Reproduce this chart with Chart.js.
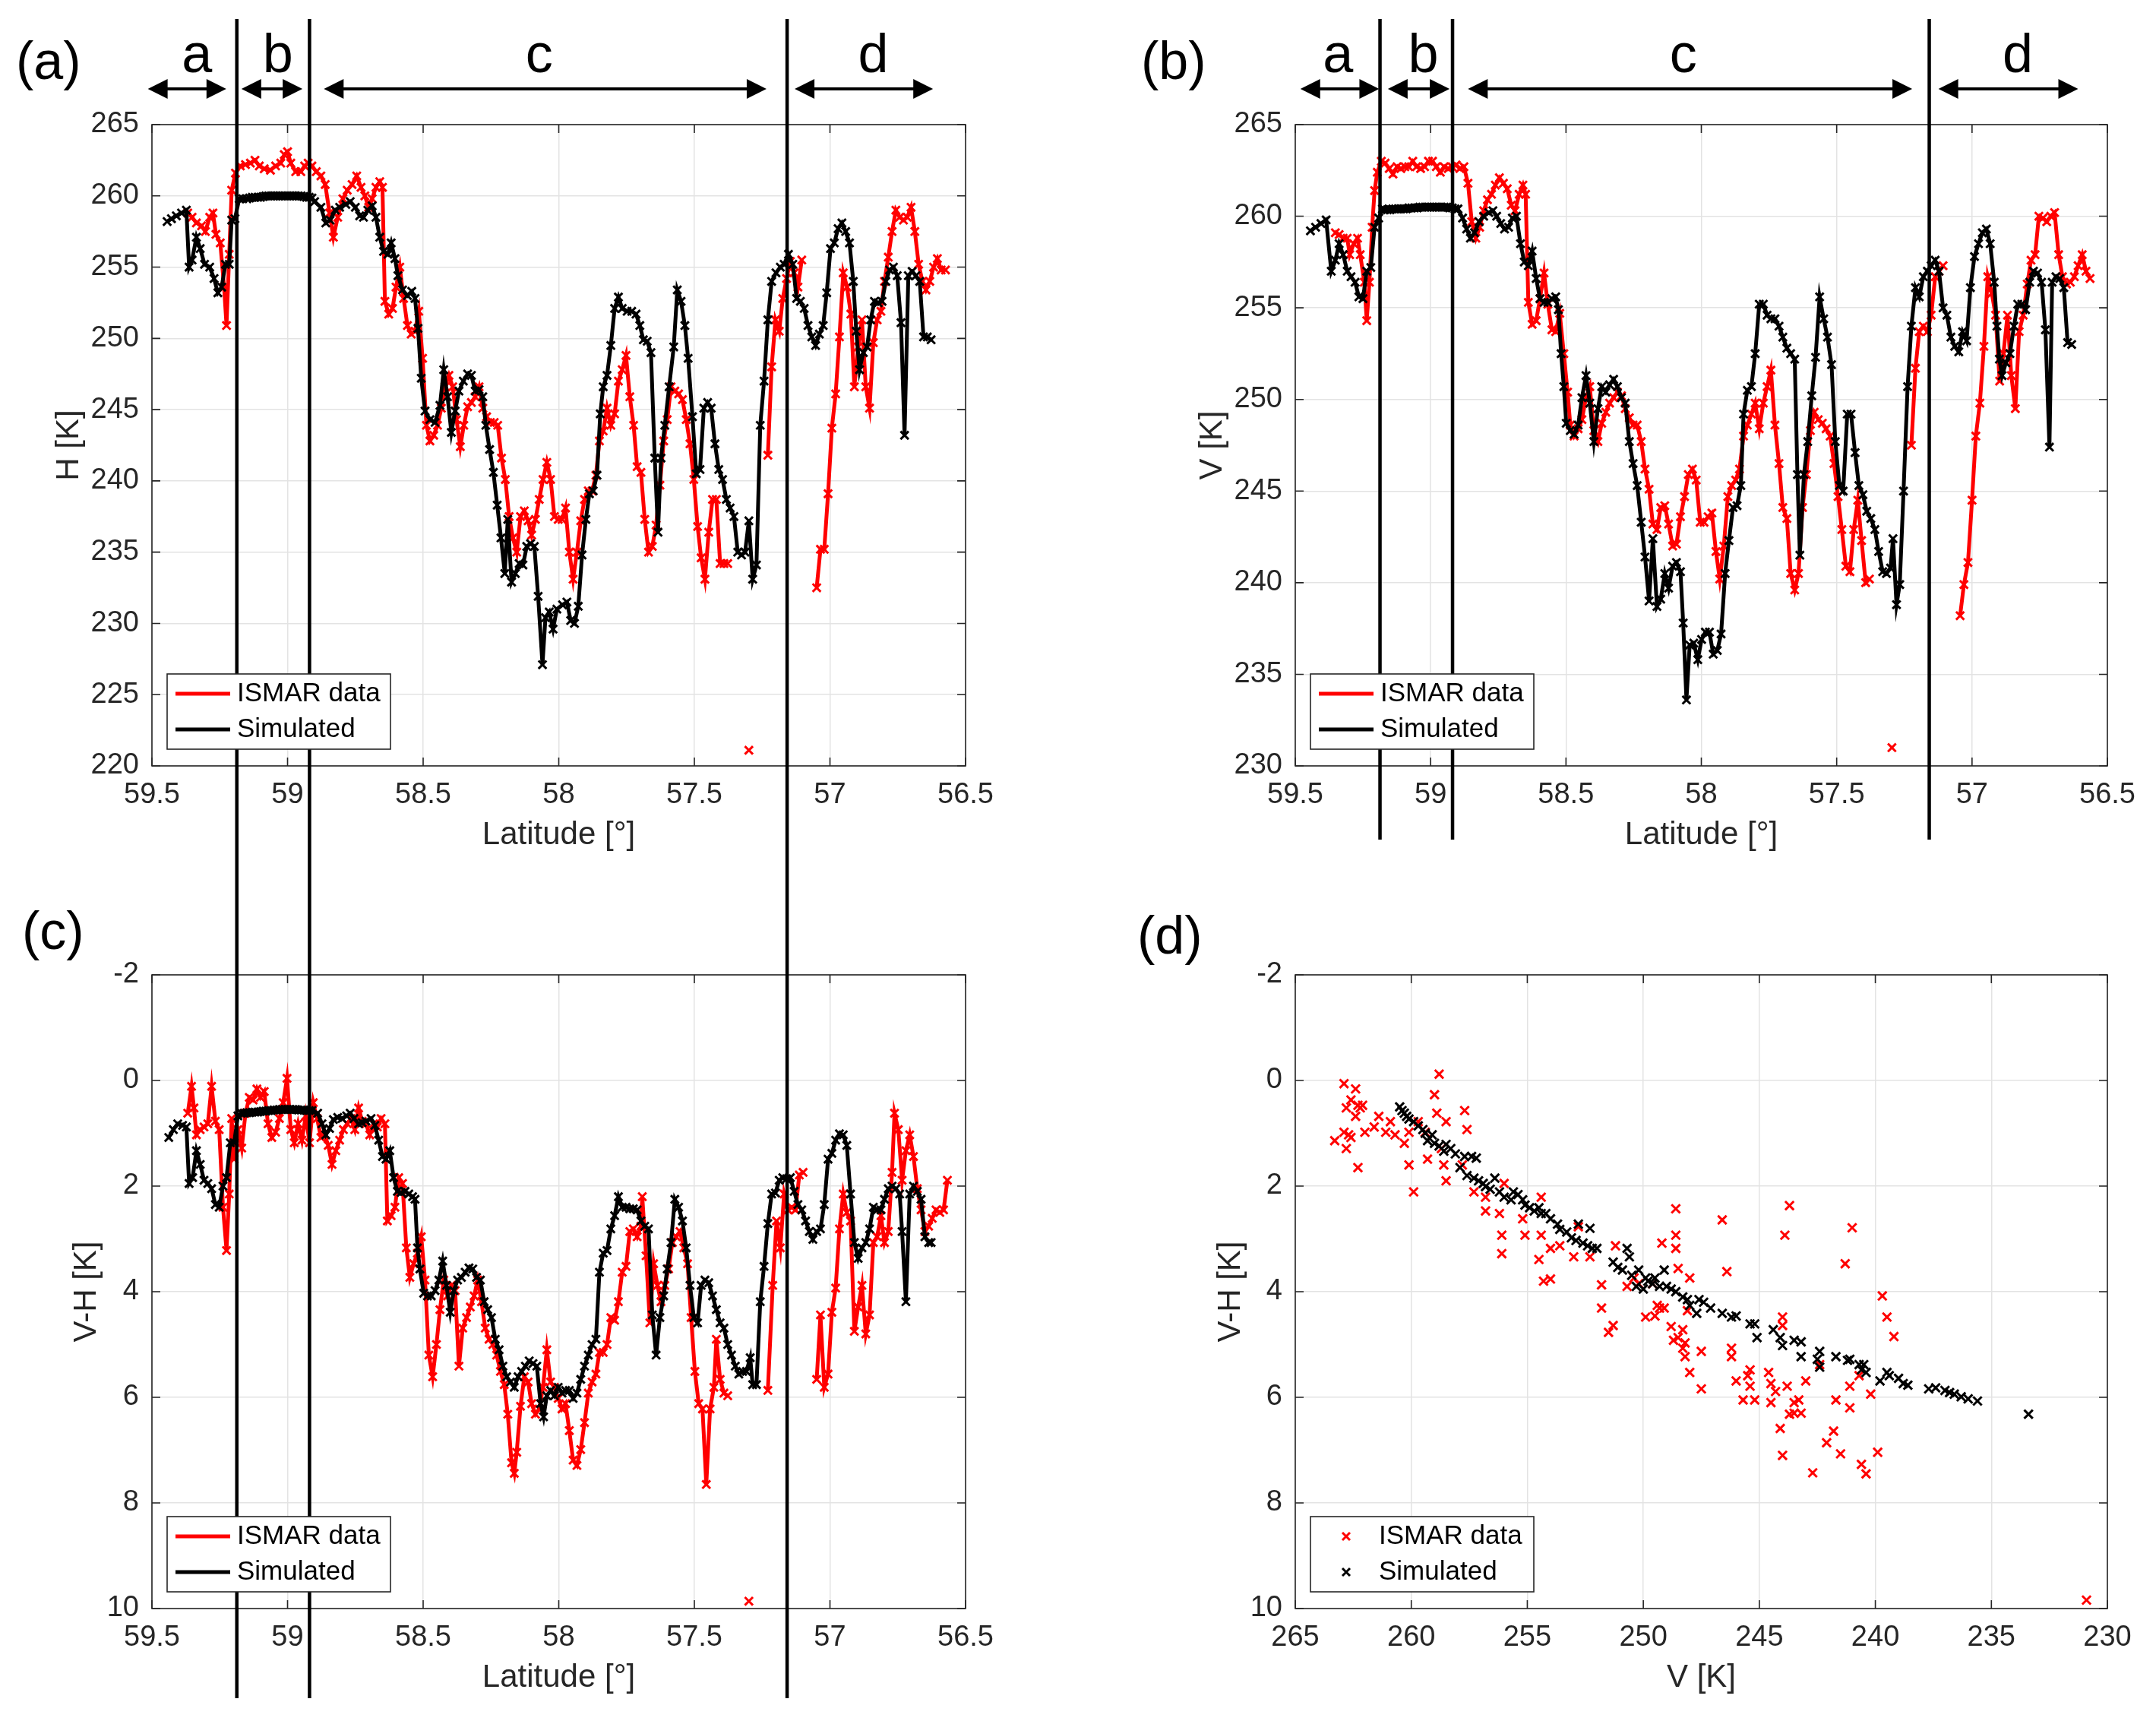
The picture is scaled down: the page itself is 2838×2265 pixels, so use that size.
<!DOCTYPE html>
<html>
<head>
<meta charset="utf-8">
<script src="https://cdn.jsdelivr.net/npm/chart.js@4.4.1/dist/chart.umd.min.js"></script>
<style>
  html, body { margin: 0; padding: 0; background: #fff; }
  #page { position: relative; width: 2838px; height: 2265px; background: #fff; overflow: hidden; }
  canvas { position: absolute; }
</style>
</head>
<body>
<div id="page">
  <canvas id="cA" width="1470" height="1160" style="left:0;top:0;width:1470px;height:1160px"></canvas>
  <canvas id="cB" width="1368" height="1160" style="left:1470px;top:0;width:1368px;height:1160px"></canvas>
  <canvas id="cC" width="1470" height="1105" style="left:0;top:1160px;width:1470px;height:1105px"></canvas>
  <canvas id="cD" width="1368" height="1105" style="left:1470px;top:1160px;width:1368px;height:1105px"></canvas>
</div>
<script>
// ---- panel (a): H vs latitude ----
const simLatA = [59.444,59.428,59.410,59.391,59.373,59.363,59.352,59.336,59.322,59.306,59.287,59.271,59.257,59.243,59.229,59.215,59.206,59.194,59.178,
  59.165,59.15,59.14,59.13,59.12,59.11,59.10,59.09,59.08,59.07,59.06,59.05,59.04,59.03,59.02,59.01,59.00,58.99,58.98,58.97,58.96,58.95,58.94,58.93,58.92,58.91,
  58.900,58.877,58.859,58.843,58.824,58.808,58.785,58.769,58.750,58.734,
  58.720,58.704,58.688,58.674,58.660,58.646,58.630,58.618,58.604,58.593,
  58.576,58.558,58.542,58.530,58.519,58.507,58.493,58.475,58.456,58.438,
  58.424,58.410,58.396,58.382,58.368,58.352,58.336,58.322,58.308,58.294,
  58.280,58.269,58.255,58.241,58.227,58.213,58.199,58.188,58.174,58.160,
  58.146,58.132,58.118,58.104,58.090,58.076,58.060,58.049,58.035,58.021,
  58.007,57.986,57.970,57.956,57.942,57.928,57.914,57.900,57.887,57.873,
  57.859,57.847,57.836,57.822,57.808,57.794,57.780,57.766,57.748,57.731,
  57.715,57.701,57.688,57.674,57.660,57.646,57.634,57.623,57.609,57.593,
  57.576,57.563,57.549,57.535,57.523,57.507,57.493,57.479,57.465,57.451,
  57.438,57.424,57.410,57.396,57.382,57.368,57.354,57.340,57.326,57.313,
  57.299,57.285,57.271,57.257,57.243,57.229,57.215,57.199,57.183,57.169,
  57.153,57.137,57.123,57.109,57.095,57.081,57.067,57.053,57.039,57.025,
  57.012,56.998,56.984,56.970,56.956,56.942,56.928,56.914,56.903,56.891,
  56.877,56.863,56.850,56.836,56.822,56.808,56.794,56.780,56.766,56.752,
  56.738,56.725,56.711,56.697,56.683,56.669,56.655,56.641,56.627];
const simHA = [258.2,258.4,258.6,258.8,259.0,255.0,255.5,257.1,256.3,255.2,255.0,254.2,253.2,253.6,255.2,255.2,258.3,258.4,259.8,
  259.8,259.8,259.85,259.9,259.9,259.9,259.9,259.95,260,260,260,260,260,260,260,260,260,260,260,260,260,260,259.95,259.9,259.9,259.85,
  259.6,259.2,258.1,258.3,259.0,259.2,259.4,259.6,259.2,258.6,
  258.5,259.0,259.3,258.5,257.1,256.1,255.9,256.7,255.6,254.4,
  253.4,253.0,253.3,252.8,250.7,247.2,244.9,244.3,244.1,245.3,
  247.8,245.9,243.4,244.9,246.3,247.0,247.5,247.4,246.3,246.4,
  245.9,243.9,242.2,240.6,238.3,236.0,233.5,237.3,232.9,233.5,
  234.2,234.1,235.4,235.6,235.4,231.9,227.1,230.4,230.8,229.6,
  231.0,231.3,231.5,230.2,230.0,231.2,234.8,237.3,239.1,239.3,
  240.4,244.7,246.6,247.4,249.5,252.1,252.9,252.1,251.9,251.9,
  251.7,250.9,249.9,249.8,249.0,241.6,236.4,241.6,243.9,246.6,
  249.4,253.4,252.6,250.9,248.6,244.5,240.5,240.8,245.1,245.5,
  245.1,242.6,240.8,240.1,238.7,238.1,237.5,235.0,234.8,235.0,
  237.2,233.1,234.1,243.9,247.0,251.3,254.0,254.6,255.0,255.2,
  255.9,255.2,252.8,252.6,252.1,250.9,250.1,249.5,250.3,250.9,
  253.2,256.3,256.7,257.7,258.1,257.5,256.7,254.0,250.5,247.8,
  249.0,249.4,251.3,252.6,252.5,252.6,254.0,254.8,255.0,254.4,
  251.1,243.2,254.4,254.7,254.4,254.0,250.1,250.1,249.9];
const ismarLatA = [59.368,59.352,59.336,59.317,59.303,59.287,59.275,59.264,59.248,59.234,
  59.225,59.215,59.206,59.192,59.174,59.155,59.137,59.120,59.104,59.086,
  59.063,59.044,59.025,59.012,59.000,58.988,58.970,58.951,58.937,58.924,
  58.910,58.894,58.877,58.861,58.845,58.831,58.815,58.796,58.780,58.762,
  58.745,58.729,58.715,58.701,58.688,58.674,58.660,58.650,58.641,58.627,
  58.613,58.600,58.586,58.572,58.558,58.544,58.530,58.516,58.502,58.488,
  58.475,58.461,58.447,58.433,58.419,58.405,58.391,58.377,58.363,58.350,
  58.336,58.322,58.308,58.294,58.280,58.266,58.252,58.238,58.225,58.211,
  58.197,58.183,58.169,58.155,58.141,58.127,58.113,58.100,58.086,58.072,
  58.058,58.044,58.030,58.016,58.002,57.988,57.975,57.961,57.947,57.933,
  57.919,57.905,57.891,57.877,57.863,57.850,57.836,57.822,57.808,57.794,
  57.780,57.766,57.752,57.738,57.724,57.711,57.697,57.683,57.669,57.655,
  57.641,57.627,57.613,57.600,57.586,57.572,57.558,57.544,57.530,57.516,
  57.502,57.488,57.475,57.461,57.447,57.433,57.419,57.405,57.391,57.377,
  null,57.299,null,57.229,57.215,57.201,57.187,57.174,57.160,57.146,
  57.132,57.118,57.104,null,57.049,57.035,57.021,57.007,56.993,56.979,
  56.965,56.951,56.937,56.923,56.910,56.896,56.882,56.868,56.854,56.840,
  56.826,56.812,56.799,56.785,56.771,56.757,56.743,56.729,56.715,56.701,
  56.687,56.673,56.659,56.646,56.632,56.618,56.604,56.590,56.574];
const ismarHA = [258.8,258.5,258.1,257.9,257.5,258.5,258.8,257.3,256.7,253.6,
  250.9,255.9,260.4,261.6,262.1,262.2,262.3,262.5,262.1,261.9,
  261.8,262.1,262.3,262.9,263.1,262.3,261.7,261.7,262.1,262.3,
  262.1,261.7,261.4,260.8,258.8,257.1,258.5,259.8,260.4,260.8,
  261.4,260.6,260.0,259.2,259.8,260.6,261.0,260.6,252.6,251.7,
  252.1,253.6,255.0,252.8,250.9,250.3,250.5,251.9,248.6,243.9,
  242.8,243.2,243.9,245.1,246.6,247.4,246.6,244.3,242.4,243.9,
  245.2,245.5,245.9,246.6,245.1,244.5,244.1,244.1,243.9,241.6,
  240.1,237.5,236.0,235.0,237.5,237.9,237.2,236.2,237.3,238.7,
  240.1,241.3,240.1,237.5,237.3,237.3,238.1,235.0,233.1,235.0,
  237.2,238.7,239.3,239.3,240.4,242.8,243.5,245.1,243.9,244.7,
  247.0,247.8,248.8,245.9,243.9,241.0,240.6,237.3,235.0,235.4,
  236.9,239.7,242.8,244.3,246.6,246.3,246.1,245.7,244.3,242.6,
  240.1,236.8,234.6,233.1,236.4,238.7,238.7,234.2,234.2,234.2,
  null,221.1,null,241.8,248.0,251.3,250.5,252.8,254.2,255.4,
  254.6,253.6,255.5,null,232.5,235.2,235.2,239.1,243.7,246.1,
  250.1,254.6,253.6,251.7,246.6,249.4,251.3,246.6,245.1,249.7,
  251.3,251.9,254.0,255.7,257.5,259.0,258.5,258.3,258.5,259.2,
  257.5,255.2,254.0,253.4,254.0,255.0,255.6,254.8,254.8];

// ---- panel (b): V vs latitude ----
const simLatB = [59.444,59.425,59.405,59.386,59.367,59.352,59.338,59.323,59.308,59.294,59.279,59.265,59.250,59.236,59.221,59.207,59.192,59.178,
  59.17,59.16,59.15,59.14,59.13,59.12,59.11,59.10,59.09,59.08,59.07,59.06,59.05,59.04,59.03,59.02,59.01,59.00,58.99,58.98,58.97,58.96,58.95,58.94,58.93,58.92,58.91,
  58.899,58.882,58.867,58.853,58.838,58.821,58.804,58.785,58.770,58.756,
  58.741,58.727,58.712,58.698,58.683,58.668,58.654,58.639,58.625,58.610,
  58.596,58.581,58.567,58.552,58.538,58.528,58.518,58.508,58.499,58.484,
  58.470,58.455,58.441,58.426,58.412,58.397,58.382,58.368,58.353,58.339,
  58.324,58.310,58.295,58.281,58.266,58.252,58.237,58.222,58.208,58.193,
  58.179,58.164,58.150,58.135,58.121,58.106,58.092,58.077,58.067,58.055,
  58.043,58.028,58.013,57.999,57.985,57.970,57.956,57.941,57.927,57.912,
  57.898,57.883,57.868,57.854,57.844,57.830,57.815,57.801,57.786,57.771,
  57.757,57.743,57.728,57.713,57.699,57.684,57.670,57.655,57.645,57.636,
  57.621,57.607,57.592,57.578,57.563,57.548,57.534,57.519,57.505,57.490,
  57.476,57.461,57.447,57.432,57.418,57.403,57.389,57.374,57.359,57.345,
  57.330,57.316,57.301,57.292,57.279,57.267,57.253,57.238,57.224,57.209,
  57.195,57.180,57.165,57.151,57.136,57.122,57.107,57.093,57.078,57.064,
  57.049,57.035,57.020,57.006,56.991,56.976,56.962,56.947,56.933,56.918,
  56.908,56.899,56.889,56.875,56.860,56.845,56.831,56.816,56.802,56.787,
  56.773,56.758,56.743,56.729,56.714,56.704,56.690,56.676,56.661,56.647,
  56.632];
const simVB = [259.2,259.4,259.6,259.8,257.0,257.6,258.5,257.9,257.0,256.7,256.4,255.6,255.5,257.0,257.2,259.4,259.9,260.4,
  260.35,260.35,260.35,260.4,260.4,260.4,260.4,260.4,260.4,260.45,260.45,260.45,260.45,260.5,260.5,260.5,260.5,260.5,260.5,260.5,260.5,260.5,260.5,260.5,260.45,260.45,260.4,
  260.4,259.9,259.3,258.8,259.1,259.7,260.0,260.2,260.3,260.0,
  259.6,259.3,259.4,259.9,260.0,258.5,257.5,257.3,258.1,256.6,
  255.5,255.3,255.3,255.5,255.6,254.9,252.5,250.7,248.7,248.3,
  248.1,248.6,250.1,251.3,249.8,247.7,249.5,250.7,250.4,250.8,
  251.1,250.7,250.1,249.8,247.7,246.5,245.3,243.3,241.4,239.0,
  242.4,238.7,239.1,240.5,239.7,240.9,241.1,240.6,237.8,233.6,
  236.6,236.7,235.8,236.9,237.3,237.3,236.1,236.3,237.2,240.5,
  242.3,244.1,244.2,245.3,249.2,250.5,250.7,252.5,255.2,255.2,
  254.6,254.4,254.4,254.0,253.4,252.8,252.5,252.2,245.9,241.5,
  245.9,247.7,250.2,252.3,255.6,254.4,253.4,251.9,247.7,245.3,
  245.0,249.2,249.2,247.1,245.3,244.8,243.9,243.5,242.9,241.7,
  240.6,240.5,240.8,242.4,238.8,239.9,245.0,250.7,254.0,256.1,
  255.6,256.7,257.0,257.3,257.6,257.0,255.0,254.6,253.4,252.9,
  252.6,253.7,253.2,256.1,257.8,258.5,259.1,259.3,258.5,256.4,
  254.0,252.2,251.3,252.0,252.5,254.0,255.2,255.2,254.9,256.4,
  257.0,256.9,256.4,253.8,247.4,256.4,256.7,256.6,256.1,253.1,
  253.0];
const ismarLatB = [59.352,59.338,59.323,59.308,59.299,59.284,59.270,59.260,59.245,59.236,
  59.226,59.216,59.207,59.197,59.182,59.168,59.153,59.139,59.124,59.110,
  59.095,59.081,59.066,59.052,59.037,59.022,59.008,58.993,58.979,58.964,
  58.950,58.935,58.921,58.906,58.892,58.877,58.862,58.848,58.833,58.819,
  58.804,58.790,58.775,58.761,58.746,58.731,58.717,58.702,58.688,58.673,
  58.659,58.649,58.639,58.625,58.610,58.596,58.581,58.567,58.552,58.538,
  58.523,58.508,58.494,58.484,58.470,58.455,58.441,58.426,58.412,58.397,
  58.382,58.368,58.353,58.339,58.324,58.310,58.295,58.281,58.266,58.252,
  58.237,58.222,58.208,58.193,58.179,58.164,58.150,58.135,58.121,58.106,
  58.092,58.077,58.062,58.048,58.033,58.019,58.004,57.990,57.975,57.961,
  57.946,57.932,57.917,57.902,57.888,57.873,57.859,57.844,57.830,57.815,
  57.801,57.786,57.771,57.757,57.743,57.728,57.713,57.699,57.684,57.670,
  57.655,57.641,57.626,57.612,57.597,57.583,57.568,57.553,57.539,57.524,
  57.510,57.495,57.481,57.466,57.451,57.437,57.422,57.408,57.393,57.379,
  null,57.296,null,57.224,57.209,57.195,57.180,57.165,57.151,57.136,
  57.122,57.107,null,57.044,57.030,57.015,57.000,56.986,56.971,56.956,
  56.942,56.927,56.913,56.898,56.884,56.869,56.855,56.840,56.826,56.811,
  56.796,56.782,56.767,56.753,56.738,56.724,56.709,56.695,56.680,56.666,
  56.651,56.637,56.622,56.608,56.593,56.579,56.564];
const ismarVB = [259.1,259.0,258.8,258.8,257.9,258.5,258.8,257.9,256.4,254.3,
  256.4,259.4,261.4,262.4,263.0,262.9,262.6,262.3,262.7,262.6,
  262.7,262.7,263.0,262.7,262.6,262.7,263.0,263.0,262.7,262.4,
  262.7,262.6,262.7,262.8,262.6,262.7,261.8,259.7,258.8,259.4,
  260.3,260.9,261.2,261.7,262.1,261.8,261.5,260.6,260.3,261.2,
  261.7,261.2,255.3,254.1,254.3,255.5,256.9,255.2,253.8,253.7,
  254.7,252.5,250.4,248.6,248.0,248.4,248.9,250.1,250.7,248.3,
  247.7,248.7,249.3,249.8,250.1,250.4,250.2,249.5,249.0,248.6,
  248.6,247.7,246.2,245.1,243.2,242.9,244.1,244.2,243.2,242.0,
  242.1,243.6,244.7,245.9,246.2,245.6,243.3,243.3,243.6,243.8,
  241.7,240.2,242.0,244.7,245.3,245.6,246.2,248.0,248.6,249.2,
  249.8,248.4,249.8,250.7,251.6,248.6,246.5,244.1,243.5,240.5,
  239.6,240.5,244.1,245.9,248.3,249.3,248.9,248.7,248.4,248.0,
  246.5,244.7,242.9,240.9,240.6,242.9,244.5,242.3,240.0,240.2,
  null,231.0,null,247.5,251.7,253.7,254.0,253.7,254.6,256.7,
  257.0,257.3,null,238.2,239.9,241.1,244.5,248.0,249.8,252.9,
  256.7,255.8,254.6,251.0,252.5,254.6,251.3,249.5,253.7,254.6,
  256.3,257.6,257.9,260.0,259.9,259.7,260.0,260.2,257.9,256.7,
  256.3,256.4,256.7,257.3,257.9,257.0,256.6];

// ---- panel (c): V-H vs latitude ----
const simLatC = [59.438,59.421,59.405,59.387,59.373,59.363,59.350,59.336,59.322,59.308,59.294,59.280,59.266,59.252,59.238,59.225,59.211,59.197,59.183,
  59.17,59.16,59.15,59.14,59.13,59.12,59.11,59.10,59.09,59.08,59.07,59.06,59.05,59.04,59.03,59.02,59.01,59.00,58.99,58.98,58.97,58.96,58.95,58.94,58.93,58.92,58.91,
  58.889,58.873,58.859,58.845,58.831,58.815,58.799,58.782,58.769,58.755,
  58.738,58.725,58.711,58.692,58.678,58.664,58.650,58.637,58.623,58.609,
  58.595,58.581,58.567,58.553,58.539,58.530,58.521,58.512,58.498,58.484,
  58.470,58.456,58.442,58.428,58.414,58.400,58.387,58.373,58.359,58.345,
  58.331,58.317,58.303,58.289,58.275,58.262,58.248,58.234,58.220,58.206,
  58.192,58.178,58.164,58.150,58.137,58.123,58.109,58.095,58.081,58.067,
  58.056,58.044,58.030,58.016,58.002,57.988,57.975,57.961,57.947,57.933,
  57.919,57.905,57.891,57.877,57.863,57.850,57.836,57.822,57.808,57.794,
  57.780,57.766,57.752,57.738,57.725,57.711,57.697,57.683,57.669,57.655,
  57.641,57.627,57.613,57.600,57.586,57.572,57.558,57.544,57.530,57.516,
  57.502,57.488,57.475,57.461,57.447,57.433,57.419,57.405,57.391,57.377,
  57.363,57.349,57.336,57.322,57.308,57.294,57.285,57.271,57.257,57.243,
  57.229,57.215,57.201,57.187,57.174,57.160,57.146,57.132,57.118,57.104,
  57.090,57.076,57.063,57.049,57.035,57.021,57.007,56.993,56.979,56.965,
  56.951,56.938,56.924,56.910,56.896,56.882,56.868,56.854,56.840,56.826,
  56.812,56.799,56.785,56.771,56.757,56.743,56.734,56.720,56.706,56.692,
  56.678,56.664,56.650,56.636,56.627];
const simVHC = [1.08,0.93,0.82,0.85,0.88,1.95,1.84,1.33,1.59,1.89,1.95,2.05,2.35,2.40,2.00,1.84,1.18,1.18,0.67,
  0.62,0.62,0.61,0.61,0.60,0.60,0.60,0.59,0.58,0.58,0.57,0.57,0.56,0.56,0.55,0.55,0.55,0.55,0.55,0.55,0.55,0.56,0.56,0.56,0.57,0.57,0.57,
  0.62,0.82,1.03,0.91,0.74,0.70,0.72,0.67,0.62,0.72,
  0.82,0.80,0.77,0.72,0.85,1.13,1.44,1.49,1.33,1.84,
  2.10,2.12,2.10,2.15,2.20,2.25,3.17,3.57,4.03,4.08,
  4.08,3.98,3.78,3.42,3.88,4.39,3.98,3.78,3.73,3.63,
  3.55,3.57,3.73,3.78,4.19,4.34,4.49,4.90,5.10,5.41,
  5.61,5.71,5.81,5.61,5.51,5.41,5.31,5.36,5.41,6.12,
  6.37,5.97,5.87,5.97,5.81,5.92,5.87,5.87,6.02,5.92,
  5.66,5.41,5.20,5.00,4.90,3.63,3.27,3.22,2.81,2.56,
  2.20,2.40,2.40,2.43,2.43,2.45,2.66,2.76,2.81,4.44,
  5.20,4.49,4.08,3.57,3.07,2.25,2.40,2.66,3.17,3.88,
  4.49,4.59,3.88,3.78,3.83,4.08,4.34,4.59,4.69,5.00,
  5.20,5.41,5.56,5.51,5.51,5.25,5.76,5.76,4.19,3.52,
  2.71,2.15,2.13,1.89,1.84,1.86,1.84,2.10,2.35,2.45,
  2.66,2.86,3.01,2.86,2.81,2.35,1.49,1.38,1.13,1.01,
  1.03,1.23,2.15,3.07,3.37,3.17,3.07,2.81,2.40,2.45,
  2.45,2.25,2.05,2.00,2.05,2.15,2.86,4.19,2.15,2.00,
  2.10,2.25,2.96,3.07,3.07];
const ismarLatC = [59.368,59.354,59.345,59.336,59.322,59.308,59.294,59.280,59.266,59.252,
  59.238,59.225,59.215,59.206,59.197,59.183,59.169,59.155,59.141,59.127,
  59.113,59.100,59.086,59.072,59.058,59.044,59.030,59.016,59.002,58.988,
  58.975,58.961,58.947,58.933,58.919,58.905,58.891,58.877,58.863,58.850,
  58.836,58.822,58.808,58.794,58.780,58.766,58.752,58.738,58.725,58.711,
  58.697,58.683,58.669,58.655,58.641,58.632,58.618,58.604,58.590,58.576,
  58.562,58.549,58.535,58.521,58.507,58.493,58.479,58.465,58.451,58.438,
  58.424,58.410,58.396,58.382,58.368,58.354,58.340,58.326,58.312,58.299,
  58.285,58.271,58.257,58.243,58.229,58.215,58.201,58.188,58.174,58.164,
  58.155,58.141,58.127,58.113,58.100,58.086,58.072,58.058,58.044,58.030,
  58.016,58.002,57.988,57.975,57.961,57.947,57.933,57.919,57.905,57.891,
  57.877,57.863,57.850,57.836,57.822,57.808,57.794,57.780,57.766,57.752,
  57.738,57.725,57.711,57.697,57.692,57.678,57.664,57.650,57.636,57.623,
  57.609,57.595,57.581,57.567,57.553,57.539,57.525,57.512,57.498,57.484,
  57.470,57.456,57.442,57.428,57.419,57.405,57.391,57.377,null,57.299,
  null,57.229,57.211,57.197,57.183,57.169,57.155,57.141,57.127,57.113,
  57.099,null,57.049,57.035,57.021,57.007,56.993,56.979,56.965,56.951,
  56.938,56.924,56.910,56.896,56.882,56.868,56.854,56.840,56.826,56.812,
  56.799,56.785,56.771,56.762,56.748,56.734,56.720,56.706,56.692,56.678,
  56.664,56.650,56.636,56.623,56.609,56.595,56.581,56.567];
const ismarVHC = [0.62,0.11,0.52,1.03,0.93,0.88,0.82,0.11,0.77,0.93,
  2.40,3.22,2.15,0.72,1.49,0.93,1.28,0.62,0.32,0.37,
  0.16,0.32,0.21,0.82,1.08,0.98,0.72,0.42,-0.04,0.93,
  1.18,0.82,1.13,0.67,1.18,0.42,0.72,1.08,1.03,1.23,
  1.59,1.33,1.13,0.93,0.82,0.72,0.93,0.52,0.77,0.82,
  1.03,0.82,0.88,0.72,0.82,2.66,2.56,2.40,1.84,1.95,
  3.17,3.73,3.47,3.27,2.96,3.78,5.20,5.61,5.00,4.34,
  3.78,4.08,3.88,3.98,5.41,4.69,4.49,4.29,4.08,3.78,
  4.19,4.69,4.90,5.00,5.20,5.51,5.76,6.32,7.24,7.44,
  7.04,6.17,5.61,5.71,6.12,6.32,6.22,5.81,5.10,5.71,
  5.81,6.02,6.22,6.12,6.63,7.19,7.29,6.99,6.48,5.92,
  5.71,5.56,5.15,5.15,5.00,4.49,4.54,4.19,3.63,3.52,
  2.86,2.81,2.96,2.76,2.20,3.32,4.59,3.47,3.88,4.19,
  3.88,3.57,3.07,2.96,2.86,3.17,3.47,4.49,5.51,6.12,
  6.22,7.65,6.22,5.81,4.90,5.66,5.92,5.97,null,9.86,
  null,5.87,3.88,2.66,3.17,2.15,2.45,2.40,2.45,1.79,
  1.74,null,5.66,4.44,5.81,5.56,4.39,3.93,2.81,2.15,
  2.50,2.66,4.75,4.29,3.88,4.80,4.44,3.07,2.96,2.56,
  3.07,2.86,1.74,0.62,0.93,1.89,1.33,1.03,1.44,2.05,
  2.45,2.86,2.76,2.61,2.45,2.50,2.45,1.89];

// ---- panel (d): V-H vs V ----
const ismarVD = [262.9,263.3,262.9,262.8,262.7,262.6,262.8,262.6,262.4,262.4,
  262.3,262.3,262.2,262.1,262.0,261.6,261.4,261.1,260.9,260.7,
  260.3,260.1,259.9,260.1,259.7,259.4,259.3,259.0,258.8,258.9,
  258.7,258.6,258.5,258.5,257.7,257.6,257.8,257.3,256.8,256.8,
  256.2,256.1,256.1,256.0,255.2,255.1,254.4,254.4,254.5,254.3,
  254.0,254.0,253.6,252.8,253.0,252.3,251.8,251.8,251.5,251.3,
  251.2,250.7,250.4,250.2,249.9,249.6,249.5,249.4,249.3,249.2,
  249.1,248.8,248.7,248.6,248.6,248.6,248.5,248.5,248.3,248.3,
  248.2,248.2,248.1,248.0,248.0,247.5,247.5,246.6,246.4,246.2,
  246.2,246.0,245.7,245.5,245.4,245.4,245.2,244.6,244.5,244.5,
  244.3,244.1,244.0,244.0,244.0,243.9,243.8,243.7,243.7,243.5,
  243.5,243.3,243.2,243.0,242.7,242.4,242.1,241.8,241.7,241.5,
  241.3,241.1,241.1,241.0,240.7,240.6,240.4,240.2,239.9,239.7,
  239.5,239.2,230.9];
const ismarVHD = [0.06,1.14,0.98,1.29,1.03,1.08,0.52,0.37,0.68,0.16,
  0.47,1.65,0.52,0.47,0.98,0.88,0.68,0.98,0.78,1.03,
  1.19,1.60,2.11,0.98,0.78,0.98,1.49,0.27,-0.12,0.62,
  1.29,1.60,1.90,0.78,0.57,0.93,1.60,2.11,2.21,2.47,
  2.52,2.93,3.28,1.95,2.62,2.93,2.21,2.93,3.39,3.80,
  3.18,3.76,3.13,2.77,3.34,3.34,3.87,4.31,4.77,4.64,
  3.13,3.90,3.74,3.85,4.48,3.85,4.46,4.26,4.31,3.08,
  4.31,4.66,4.92,2.43,2.93,3.18,3.56,4.87,4.72,5.07,
  5.23,4.97,4.36,3.74,5.53,5.13,5.84,2.64,3.62,5.07,
  5.23,5.69,6.05,5.59,5.48,5.79,6.05,5.53,5.74,6.10,
  5.89,6.59,4.48,4.64,7.10,2.93,5.79,2.37,6.32,6.10,
  6.30,6.05,6.30,5.69,7.43,5.38,6.86,6.64,6.05,7.07,
  3.47,5.79,6.20,2.79,5.59,7.27,7.45,5.94,7.04,4.08,
  4.48,4.85,9.84];
const simVD = [260.5,260.4,260.3,260.2,260.1,259.9,259.7,259.5,259.4,259.3,
  259.1,259.0,258.8,258.6,258.5,258.3,258.1,257.9,257.7,257.4,
  257.2,257.6,257.3,257.1,256.9,256.8,256.6,256.4,256.2,256.0,
  255.7,255.6,255.4,255.2,255.1,254.9,254.7,254.5,254.4,254.2,
  254.0,253.7,253.6,253.3,253.1,252.9,252.8,252.6,252.4,252.3,
  252.2,252.0,251.3,251.1,250.9,250.7,250.6,250.5,250.3,250.2,
  250.0,249.9,249.8,249.6,249.5,249.3,249.1,249.0,248.8,248.6,
  248.3,248.1,248.0,247.7,247.6,247.4,247.1,246.6,246.2,246.0,
  245.4,245.2,245.1,244.4,244.1,244.0,243.5,243.2,243.2,242.5,
  242.4,242.4,241.7,241.2,241.1,240.7,240.6,240.5,240.4,239.8,
  239.5,239.4,239.0,238.8,238.6,237.7,237.4,237.0,236.8,236.6,
  236.3,236.0,235.6,233.4];
const simVHD = [0.50,0.57,0.62,0.68,0.73,0.78,0.86,0.93,1.00,1.14,
  1.03,1.19,1.24,1.34,1.21,1.29,1.39,1.65,1.44,1.44,
  1.47,1.80,1.85,1.90,1.95,2.01,2.06,1.85,2.11,2.21,
  2.26,2.11,2.16,2.26,2.36,2.41,2.47,2.41,2.52,2.52,
  2.62,2.72,2.82,2.87,2.98,3.03,2.72,3.08,3.13,2.80,
  3.18,3.18,3.44,3.54,3.59,3.18,3.34,3.69,3.90,3.59,
  3.95,3.74,3.80,3.85,3.74,3.90,3.59,3.90,3.95,4.00,
  4.10,4.15,4.26,4.41,4.15,4.20,4.31,4.41,4.48,4.46,
  4.61,4.61,4.87,4.72,4.87,5.02,4.92,4.95,5.23,5.28,
  5.13,5.43,5.23,5.30,5.28,5.38,5.48,5.38,5.53,5.69,
  5.53,5.59,5.64,5.74,5.77,5.84,5.82,5.87,5.91,5.94,
  5.99,6.03,6.07,6.32];

// region boundaries (latitude) and the a-d arrows above panels (a) and (b)
const regionLines = [59.187, 58.919, 57.158];
const regionNames = ['a', 'b', 'c', 'd'];
const arrowFromA = [59.515, 59.170, 58.866, 57.130];
const arrowToA = [59.226, 58.945, 57.234, 56.620];
const nameAtA = [59.334, 59.036, 58.072, 56.840];
const arrowFromB = [59.481, 59.158, 58.862, 57.124];
const arrowToB = [59.190, 58.930, 57.221, 56.608];
const nameAtB = [59.342, 59.027, 58.067, 56.831];

const FONT = "'Liberation Sans', Arial, Helvetica, sans-serif";
const AXC = '#262626';
const RED = '#ff0000';
Chart.defaults.font.family = FONT;
Chart.defaults.color = AXC;

function pairs(xs, ys) {
  return xs.map((x, i) => ({ x: x, y: ys[i] }));
}

function drawArrow(ctx, xa, xb, y) {
  const l = Math.min(xa, xb), r = Math.max(xa, xb), h = 26, w = 13;
  ctx.strokeStyle = '#000';
  ctx.lineWidth = 4;
  ctx.beginPath();
  ctx.moveTo(l + h - 2, y);
  ctx.lineTo(r - h + 2, y);
  ctx.stroke();
  ctx.fillStyle = '#000';
  ctx.beginPath();
  ctx.moveTo(l, y); ctx.lineTo(l + h, y - w); ctx.lineTo(l + h, y + w);
  ctx.closePath(); ctx.fill();
  ctx.beginPath();
  ctx.moveTo(r, y); ctx.lineTo(r - h, y - w); ctx.lineTo(r - h, y + w);
  ctx.closePath(); ctx.fill();
}

// box, inward ticks, region lines, arrows, panel tag and legend (matlab look)
const panelDeco = {
  id: 'panelDeco',
  afterDraw(chart, args, o) {
    const ctx = chart.ctx;
    const { left, right, top, bottom } = chart.chartArea;
    const xs = chart.scales.x, ys = chart.scales.y;
    ctx.save();

    ctx.strokeStyle = AXC;
    ctx.lineWidth = 1.6;
    ctx.strokeRect(left, top, right - left, bottom - top);
    ctx.beginPath();
    xs.ticks.forEach(t => {
      const p = xs.getPixelForValue(t.value);
      ctx.moveTo(p, bottom); ctx.lineTo(p, bottom - 11);
      ctx.moveTo(p, top); ctx.lineTo(p, top + 11);
    });
    ys.ticks.forEach(t => {
      const p = ys.getPixelForValue(t.value);
      ctx.moveTo(left, p); ctx.lineTo(left + 11, p);
      ctx.moveTo(right, p); ctx.lineTo(right - 11, p);
    });
    ctx.stroke();

    if (o.lines) {
      ctx.strokeStyle = '#000';
      ctx.lineWidth = 4.5;
      ctx.beginPath();
      o.lines.forEach(v => {
        const p = xs.getPixelForValue(v);
        ctx.moveTo(p, o.lineFrom); ctx.lineTo(p, o.lineTo);
      });
      ctx.stroke();
    }

    if (o.arrows) {
      o.arrows.from.forEach((v, i) => {
        drawArrow(ctx, xs.getPixelForValue(v), xs.getPixelForValue(o.arrows.to[i]), 117);
      });
      ctx.fillStyle = '#000';
      ctx.font = '72px ' + FONT;
      ctx.textAlign = 'center';
      ctx.textBaseline = 'alphabetic';
      o.arrows.at.forEach((v, i) => ctx.fillText(regionNames[i], xs.getPixelForValue(v), 95));
    }

    ctx.fillStyle = '#000';
    ctx.font = '70px ' + FONT;
    ctx.textAlign = 'left';
    ctx.textBaseline = 'alphabetic';
    ctx.fillText(o.tag, o.tagX, o.tagY);

    // legend box, lower left inside the axes
    const bx = left + 20, bw = 294, bh = 99, by = bottom - 22 - bh;
    ctx.fillStyle = '#fff';
    ctx.fillRect(bx, by, bw, bh);
    ctx.strokeStyle = AXC;
    ctx.lineWidth = 1.6;
    ctx.strokeRect(bx, by, bw, bh);
    const entries = [['ISMAR data', RED], ['Simulated', '#000']];
    ctx.font = '35px ' + FONT;
    ctx.textBaseline = 'middle';
    entries.forEach((e, i) => {
      const yy = by + 26 + i * 47;
      ctx.strokeStyle = e[1];
      if (o.markers) {
        ctx.lineWidth = 3;
        ctx.beginPath();
        ctx.moveTo(bx + 47 - 5, yy - 5); ctx.lineTo(bx + 47 + 5, yy + 5);
        ctx.moveTo(bx + 47 - 5, yy + 5); ctx.lineTo(bx + 47 + 5, yy - 5);
        ctx.stroke();
        ctx.fillStyle = '#000';
        ctx.fillText(e[0], bx + 90, yy);
      } else {
        ctx.lineWidth = 5;
        ctx.beginPath();
        ctx.moveTo(bx + 11, yy); ctx.lineTo(bx + 83, yy);
        ctx.stroke();
        ctx.fillStyle = '#000';
        ctx.fillText(e[0], bx + 92, yy);
      }
    });
    ctx.restore();
  }
};

function lineSet(label, lat, vals, color, order) {
  return {
    label: label,
    data: pairs(lat, vals),
    borderColor: color,
    backgroundColor: color,
    borderWidth: 5,
    pointStyle: 'crossRot',
    pointRadius: 7.5,
    pointBorderWidth: 3,
    pointBorderColor: color,
    spanGaps: false,
    order: order
  };
}

function dotSet(label, xv, yv, color, order) {
  return {
    label: label,
    data: pairs(xv, yv),
    borderColor: color,
    backgroundColor: color,
    pointStyle: 'crossRot',
    pointRadius: 8,
    pointBorderWidth: 3,
    showLine: false,
    order: order
  };
}

function fmt(v) { return String(Math.round(v * 10) / 10); }

function makeChart(id, cfg) {
  return new Chart(document.getElementById(id), {
    type: cfg.type,
    data: { datasets: cfg.datasets },
    options: {
      responsive: false,
      animation: false,
      devicePixelRatio: 1,
      events: [],
      layout: { padding: { left: 0, top: cfg.padTop, right: cfg.padRight, bottom: cfg.padBottom } },
      plugins: {
        legend: { display: false },
        tooltip: { enabled: false },
        panelDeco: cfg.deco
      },
      scales: {
        x: {
          type: 'linear', min: cfg.xMin, max: cfg.xMax, reverse: true,
          ticks: { stepSize: cfg.xStep, autoSkip: false, maxRotation: 0, padding: 16, font: { size: 38 }, color: AXC, callback: fmt },
          grid: { color: '#e3e3e3', lineWidth: 1.5, drawTicks: false },
          border: { display: false },
          title: { display: true, text: cfg.xTitle, font: { size: 42 }, color: AXC, padding: { top: 0, bottom: 23 } },
          afterFit: s => { s.height = 140; }
        },
        y: {
          type: 'linear', min: cfg.yMin, max: cfg.yMax, reverse: !!cfg.yReverse,
          ticks: { stepSize: cfg.yStep, autoSkip: false, padding: 17, font: { size: 38 }, color: AXC, callback: fmt },
          grid: { color: '#e3e3e3', lineWidth: 1.5, drawTicks: false },
          border: { display: false },
          title: { display: true, text: cfg.yTitle, font: { size: 42 }, color: AXC, padding: { top: cfg.yTitlePad, bottom: 0 } },
          afterFit: s => { s.width = cfg.yWidth; }
        }
      }
    },
    plugins: [panelDeco]
  });
}

makeChart('cA', {
  type: 'line',
  datasets: [lineSet('ISMAR data', ismarLatA, ismarHA, RED, 2), lineSet('Simulated', simLatA, simHA, '#000', 1)],
  padTop: 164, padRight: 199, padBottom: 12, yWidth: 200, yTitlePad: 66,
  xMin: 56.5, xMax: 59.5, xStep: 0.5, yMin: 220, yMax: 265, yStep: 5,
  xTitle: 'Latitude [°]', yTitle: 'H [K]',
  deco: { tag: '(a)', tagX: 21, tagY: 104, lines: regionLines, lineFrom: 25, lineTo: 1160,
          arrows: { from: arrowFromA, to: arrowToA, at: nameAtA } }
});

makeChart('cB', {
  type: 'line',
  datasets: [lineSet('ISMAR data', ismarLatB, ismarVB, RED, 2), lineSet('Simulated', simLatB, simVB, '#000', 1)],
  padTop: 164, padRight: 64, padBottom: 12, yWidth: 235, yTitlePad: 101,
  xMin: 56.5, xMax: 59.5, xStep: 0.5, yMin: 230, yMax: 265, yStep: 5,
  xTitle: 'Latitude [°]', yTitle: 'V [K]',
  deco: { tag: '(b)', tagX: 32, tagY: 104, lines: regionLines, lineFrom: 25, lineTo: 1105,
          arrows: { from: arrowFromB, to: arrowToB, at: nameAtB } }
});

makeChart('cC', {
  type: 'line',
  datasets: [lineSet('ISMAR data', ismarLatC, ismarVHC, RED, 2), lineSet('Simulated', simLatC, simVHC, '#000', 1)],
  padTop: 123, padRight: 199, padBottom: 8, yWidth: 200, yTitlePad: 89,
  xMin: 56.5, xMax: 59.5, xStep: 0.5, yMin: -2, yMax: 10, yStep: 2, yReverse: true,
  xTitle: 'Latitude [°]', yTitle: 'V-H [K]',
  deco: { tag: '(c)', tagX: 29, tagY: 89, lines: regionLines, lineFrom: 0, lineTo: 1075 }
});

makeChart('cD', {
  type: 'scatter',
  datasets: [dotSet('ISMAR data', ismarVD, ismarVHD, RED, 2), dotSet('Simulated', simVD, simVHD, '#000', 1)],
  padTop: 123, padRight: 64, padBottom: 8, yWidth: 235, yTitlePad: 125,
  xMin: 230, xMax: 265, xStep: 5, yMin: -2, yMax: 10, yStep: 2, yReverse: true,
  xTitle: 'V [K]', yTitle: 'V-H [K]',
  deco: { tag: '(d)', tagX: 27, tagY: 95, markers: true }
});
</script>
</body>
</html>
